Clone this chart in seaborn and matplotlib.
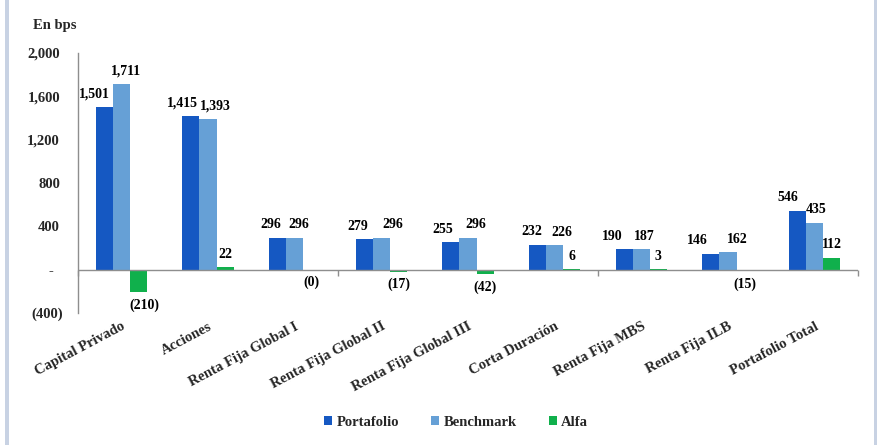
import numpy as np
import pandas as pd
import matplotlib
matplotlib.use("Agg")
import matplotlib.pyplot as plt
import matplotlib.transforms as mtransforms
from matplotlib.patches import Rectangle
import seaborn as sns

# ---------------- data ----------------
CATEGORIES = ["Capital Privado", "Acciones", "Renta Fija Global I", "Renta Fija Global II",
              "Renta Fija Global III", "Corta Duración", "Renta Fija MBS", "Renta Fija ILB",
              "Portafolio Total"]
SERIES = ["Portafolio", "Benchmark", "Alfa"]
PORTAFOLIO = [1501, 1415, 296, 279, 255, 232, 190, 146, 546]
BENCHMARK = [1711, 1393, 296, 296, 296, 226, 187, 162, 435]
ALFA = [-210, 22, -0.4, -17, -42, 6, 3, -15, 112]
Y_TICKS = [-400, 0, 400, 800, 1200, 1600, 2000]
Y_LABEL = "En bps"

# ---------------- style ----------------
COLORS = ["#1558C2", "#66A0D6", "#10B04C"]
TEXT_FONT = ["Liberation Serif", "DejaVu Serif"]
AXIS_COLOR = "#8E8E8E"
# label offsets in pixels (layout only)
P_DX = [-10, -9, -7, -7, -8, -6, -12, -14, -10]
B_DX = [5, 7, 4, 11, 8, 7, 3, 9, 1]
A_DX = [6, 0, 0, 0, 0, 0, 0, 0, 0]
LBL_DY = 13

sns.set_style("white")
plt.rcParams["font.family"] = TEXT_FONT
plt.rcParams["font.weight"] = "bold"

df = pd.DataFrame({
    "Categoria": CATEGORIES * 3,
    "Serie": [s for s in SERIES for _ in CATEGORIES],
    "Valor": PORTAFOLIO + BENCHMARK + ALFA,
})

W, H = 877, 445
fig = plt.figure(figsize=(W / 100, H / 100), dpi=100)
fig.patch.set_facecolor("white")
ax = fig.add_axes([78 / W, 1 - 313 / H, (858 - 78) / W, (313 - 53) / H])

sns.barplot(data=df, x="Categoria", y="Valor", hue="Serie", order=CATEGORIES,
            hue_order=SERIES, palette=COLORS, saturation=1, width=0.59, gap=0,
            errorbar=None, ax=ax, zorder=2, linewidth=0, edgecolor="none")

ymin, ymax = min(Y_TICKS), max(Y_TICKS)
ax.set_ylim(ymin, ymax)
ax.set_xlim(-0.5, len(CATEGORIES) - 0.5)
ax.set_xlabel("")
ax.set_ylabel("")


def fmt(v):
    r = round(v)
    if v < 0:
        return f"({abs(r):,.0f})"
    if r == 0:
        return "-"
    return f"{r:,.0f}"


ax.set_yticks(Y_TICKS)
ax.set_yticklabels([fmt(v) for v in Y_TICKS], family=TEXT_FONT, fontweight="bold", fontsize=10.5)
ax.tick_params(axis="y", length=0, pad=13)
for lbl, v in zip(ax.get_yticklabels(), Y_TICKS):
    if v == 0:
        lbl.set_transform(lbl.get_transform() + mtransforms.ScaledTranslation(-7 / 100, 0, fig.dpi_scale_trans))
    elif v < 0:
        lbl.set_transform(lbl.get_transform() + mtransforms.ScaledTranslation(3 / 100, 0, fig.dpi_scale_trans))

ax.set_xticks(range(len(CATEGORIES)))
ax.set_xticklabels(CATEGORIES, rotation=28, ha="right", va="top", rotation_mode="anchor",
                   fontsize=10.5, fontweight="bold", family=TEXT_FONT)
ax.tick_params(axis="x", length=0, pad=5)

for side in ["top", "right", "bottom"]:
    ax.spines[side].set_visible(False)
ax.spines["left"].set_color(AXIS_COLOR)
ax.spines["left"].set_linewidth(1)
ax.grid(False)

# zero line
ax.axhline(0, color=AXIS_COLOR, linewidth=1, zorder=3)
# tick marks every 3 categories on the zero line
zero_frac = (0 - ymin) / (ymax - ymin)
sec = ax.secondary_xaxis(zero_frac)
sec.set_xticks(np.arange(-0.5, len(CATEGORIES), 3))
sec.set_xticklabels([])
sec.tick_params(axis="x", length=4, width=1, color=AXIS_COLOR, direction="out")
sec.spines["bottom"].set_visible(False)

# data labels
px2pt = 0.72
VALUES = [PORTAFOLIO, BENCHMARK, ALFA]
DXS = [P_DX, B_DX, A_DX]
for s_idx, cont in enumerate(ax.containers):
    for c_idx, bar in enumerate(cont):
        v = VALUES[s_idx][c_idx]
        x = bar.get_x() + bar.get_width() / 2
        dx = DXS[s_idx][c_idx]
        dy = LBL_DY if v >= 0 else -LBL_DY
        ax.annotate(fmt(v), (x, v),
                    xytext=(dx * px2pt, dy * px2pt), textcoords="offset points",
                    ha="center", va="center", fontsize=10, fontweight="bold",
                    family=TEXT_FONT, color="black")

# legend
handles, labels = ax.get_legend_handles_labels()
ax.legend(handles, labels, loc="center", bbox_to_anchor=(456 / W, 1 - 422 / H),
          bbox_transform=fig.transFigure, ncol=3, frameon=False, handlelength=0.55,
          handleheight=0.55, handletextpad=0.3, columnspacing=2.2,
          prop={"family": TEXT_FONT, "weight": "bold", "size": 10.5})

fig.text(33 / W, 1 - 25 / H, Y_LABEL, ha="left", va="center", fontsize=10.5,
         fontweight="bold", family=TEXT_FONT)

# frame strips
fig.patches.append(Rectangle((5 / W, 0), 4 / W, 1, transform=fig.transFigure,
                             facecolor="#C8D2E3", edgecolor="none"))
fig.patches.append(Rectangle((874 / W, 0), 3 / W, 1, transform=fig.transFigure,
                             facecolor="#C8D2E3", edgecolor="none"))

fig.savefig("out.png", dpi=100)
